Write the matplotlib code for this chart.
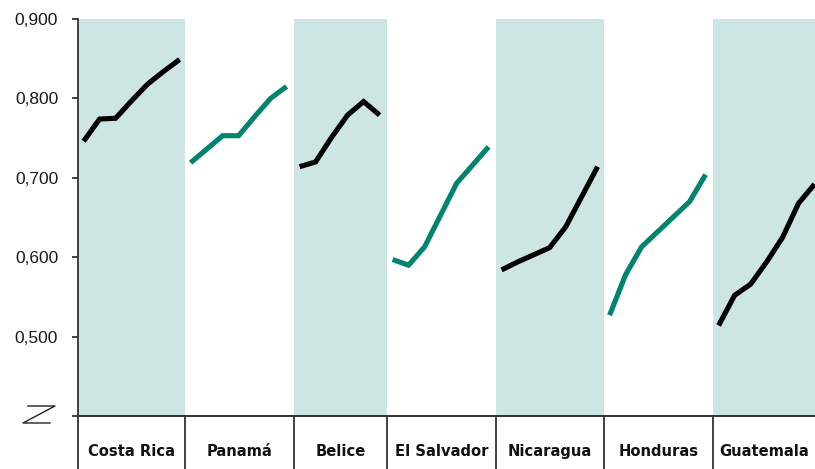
import matplotlib
matplotlib.use('Agg')
import matplotlib.pyplot as plt
from matplotlib.lines import Line2D
from matplotlib.ticker import FuncFormatter

plt.rcParams['font.family'] = ['Liberation Sans', 'DejaVu Sans']

# datos
paises = ['Costa Rica', 'Panamá', 'Belice', 'El Salvador', 'Nicaragua', 'Honduras', 'Guatemala']
costa_rica = [0.746, 0.774, 0.775, 0.797, 0.818, 0.834, 0.849]
panama = [0.719, 0.736, 0.753, 0.753, 0.777, 0.800, 0.815]
belice = [0.714, 0.720, 0.751, 0.779, 0.796, 0.779]
el_salvador = [0.597, 0.590, 0.613, 0.653, 0.693, 0.716, 0.739]
nicaragua = [0.584, 0.594, 0.603, 0.612, 0.638, 0.676, 0.714]
honduras = [0.527, 0.578, 0.613, 0.632, 0.651, 0.670, 0.704]
guatemala = [0.514, 0.552, 0.566, 0.594, 0.625, 0.668, 0.692]
series = [costa_rica, panama, belice, el_salvador, nicaragua, honduras, guatemala]
y_ticks = [0.5, 0.6, 0.7, 0.8, 0.9]

# layout (pixels of the 815x469 reference)
W, H = 815, 469
anchos = [107, 109, 93, 109, 108, 109, 102]
paso = 16
sombra = '#cde6e3'
verde = '#00836f'
negro = '#000000'

fig = plt.figure(figsize=(W / 100, H / 100), dpi=100)
gs = fig.add_gridspec(1, 7, left=78 / W, right=1, top=1 - 19 / H, bottom=1 - 416 / H,
                      wspace=0, width_ratios=anchos)

lab_font = dict(family=['Liberation Sans Narrow', 'DejaVu Sans'], fontweight='bold',
                fontstretch='condensed', fontsize=11.8, color='#111111')

axes = []
for i, (pais, vals) in enumerate(zip(paises, series)):
    ax = fig.add_subplot(gs[0, i])
    shaded = i % 2 == 0
    ax.set_facecolor(sombra if shaded else 'white')
    ax.plot(range(len(vals)), vals, color=negro if shaded else verde, lw=3.7,
            solid_capstyle='butt', solid_joinstyle='miter')
    ax.set_xlim(-0.35, anchos[i] / paso - 0.35)
    ax.set_ylim(0.4, 0.9)
    ax.set_xticks([])
    for s in ['top', 'right', 'left']:
        ax.spines[s].set_visible(False)
    ax.spines['bottom'].set_linewidth(1.3)
    ax.spines['bottom'].set_color('#222222')
    if i == 0:
        ax.set_yticks([0.4] + y_ticks)
        ax.yaxis.set_major_formatter(FuncFormatter(
            lambda v, p: '' if v < 0.45 else f'{v:.3f}'.replace('.', ',')))
        ax.tick_params(axis='y', length=4.3, width=1.2, color='#222222', pad=10,
                       labelsize=12.5, labelcolor='#1a1a1a')
    else:
        ax.set_yticks([])
    axes.append(ax)

# separadores bajo el eje y etiquetas de pais
y_bot = 1 - 416 / H
for i, ax in enumerate(axes):
    pos = ax.get_position()
    fig.add_artist(Line2D([pos.x0, pos.x0], [0, y_bot if i > 0 else 1 - 19 / H],
                          color='#333333', lw=1.3))
    fig.text((pos.x0 + pos.x1) / 2, 1 - 451 / H, paises[i], ha='center', va='center',
             **lab_font)

# simbolo de corte del eje
zx = [28 / W, 55 / W, 23 / W, 50 / W]
zy = [1 - 406 / H, 1 - 406 / H, 1 - 423 / H, 1 - 423 / H]
fig.add_artist(Line2D(zx, zy, color='#222222', lw=1.0))

fig.savefig('out.png', dpi=100)
